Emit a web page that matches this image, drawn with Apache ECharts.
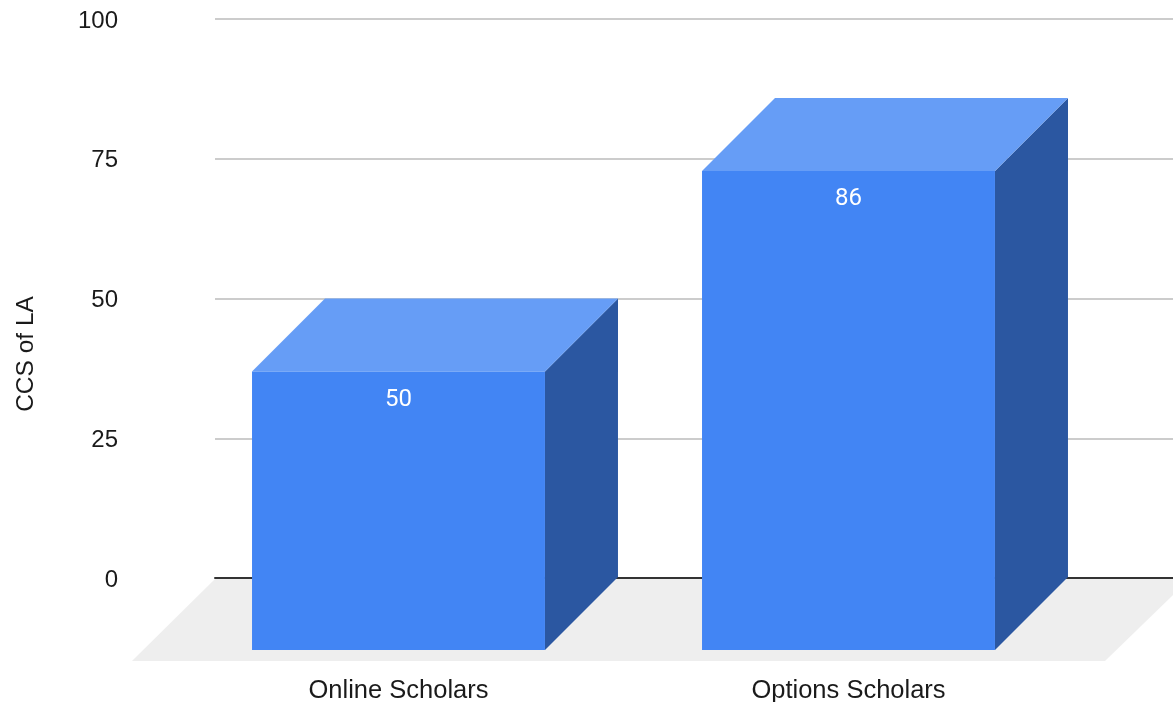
<!DOCTYPE html>
<html>
<head>
<meta charset="utf-8">
<title>CCS of LA</title>
<script src="https://cdn.jsdelivr.net/npm/echarts@6/dist/echarts.min.js"></script>
<style>
  html, body { margin: 0; padding: 0; background: #fff; }
  #chart { width: 1173px; height: 702px; }
</style>
</head>
<body>
<div id="chart"></div>
<script>
var categories = ['Online Scholars', 'Options Scholars'];
var scholars = [50, 86];
var axisName = 'CCS of LA';

var font = '"Liberation Sans", Arial, sans-serif';
var depth = 73;

var chart = echarts.init(document.getElementById('chart'));

// the front of the bars sits on its own grid, shifted down-left by the depth
function renderBar(params, api) {
  var base = api.coord([api.value(0), 0]);
  var top = api.coord([api.value(0), api.value(1)]);
  var w = api.size([1, 0])[0] * 0.651;
  var x0 = base[0] - w / 2;
  var x1 = base[0] + w / 2;
  return {
    type: 'group',
    children: [
      {
        type: 'polygon',
        shape: { points: [[x1, top[1]], [x1 + depth, top[1] - depth], [x1 + depth, base[1] - depth], [x1, base[1]]] },
        style: { fill: '#2b57a1' }
      },
      {
        type: 'polygon',
        shape: { points: [[x0, top[1]], [x0 + depth, top[1] - depth], [x1 + depth, top[1] - depth], [x1, top[1]]] },
        style: { fill: '#669df6' }
      },
      {
        type: 'rect',
        shape: { x: x0, y: top[1], width: w, height: base[1] - top[1] },
        style: { fill: '#4285f4' }
      },
      {
        type: 'text',
        style: {
          text: String(api.value(1)), x: base[0], y: top[1] + 28,
          align: 'center', verticalAlign: 'middle',
          fill: '#fff', font: '24px Roboto, sans-serif'
        }
      }
    ]
  };
}

var option = {
  animation: false,
  backgroundColor: '#fff',
  grid: [
    { left: 215, top: 19, width: 958, height: 559, outerBoundsMode: 'none' },
    { left: 173.5, top: 93, width: 900, height: 557, outerBoundsMode: 'none' }
  ],
  xAxis: [
    {
      type: 'category', gridIndex: 0, data: categories,
      axisLine: { lineStyle: { color: '#333', width: 2 } },
      axisTick: { show: false },
      axisLabel: { show: false }
    },
    {
      type: 'category', gridIndex: 1, data: categories,
      axisLine: { show: false },
      axisTick: { show: false },
      axisLabel: { margin: 28, color: '#1a1a1a', fontSize: 25.5, fontFamily: font }
    }
  ],
  yAxis: [
    {
      type: 'value', gridIndex: 0, min: 0, max: 100, interval: 25,
      axisLine: { show: false },
      axisTick: { show: false },
      axisLabel: {
        margin: 97,
        formatter: '{t|{value}}',
        rich: { t: { color: '#1a1a1a', fontSize: 24, fontFamily: font, padding: [4, 0, 0, 0] } }
      },
      splitLine: { lineStyle: { color: '#ccc', width: 2 } }
    },
    {
      type: 'value', gridIndex: 1, min: 0, max: 100, interval: 25,
      axisLine: { show: false },
      axisTick: { show: false },
      axisLabel: { show: false },
      splitLine: { show: false }
    }
  ],
  graphic: [
    {
      type: 'polygon', z: 0, silent: true,
      shape: { points: [[215, 579], [1173, 579], [1173, 595], [1105, 661], [132, 661]] },
      style: { fill: '#eee' }
    },
    {
      type: 'text', x: 26, y: 354, rotation: Math.PI / 2,
      style: { text: axisName, align: 'center', verticalAlign: 'middle', fill: '#1a1a1a', font: '24.5px ' + font }
    }
  ],
  series: [
    {
      name: axisName,
      type: 'custom',
      xAxisIndex: 1,
      yAxisIndex: 1,
      z: 5,
      renderItem: renderBar,
      encode: { x: 0, y: 1 },
      data: categories.map(function (c, i) { return [i, scholars[i]]; })
    }
  ]
};
chart.setOption(option);
</script>
</body>
</html>
